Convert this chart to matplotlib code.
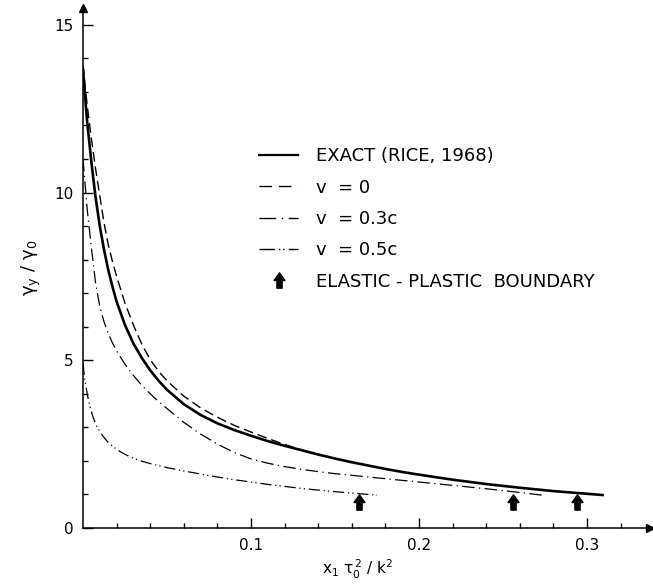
import numpy as np
import matplotlib
matplotlib.use('Agg')
import matplotlib.pyplot as plt
from matplotlib.lines import Line2D
from matplotlib.path import Path

plt.rcParams['font.family'] = 'DejaVu Sans'
plt.rcParams['mathtext.default'] = 'regular'

# Exact solution (Rice, 1968)
exact_x = [0.0, 0.001, 0.0025, 0.005, 0.0075, 0.01, 0.0125, 0.015, 0.0175, 0.02,
           0.025, 0.03, 0.035, 0.04, 0.045, 0.05, 0.06, 0.07, 0.08, 0.09, 0.1,
           0.11, 0.12, 0.13, 0.14, 0.15, 0.16, 0.17, 0.18, 0.19, 0.2,
           0.22, 0.24, 0.26, 0.28, 0.295, 0.31]
exact_y = [13.7, 13.0, 12.1, 10.9, 9.85, 9.0, 8.3, 7.7, 7.2, 6.75,
           6.05, 5.5, 5.07, 4.7, 4.39, 4.12, 3.69, 3.37, 3.12, 2.92, 2.75,
           2.59, 2.45, 2.32, 2.19, 2.07, 1.96, 1.86, 1.76, 1.67, 1.59,
           1.44, 1.31, 1.20, 1.10, 1.04, 0.98]

# v = 0
v0_x = [0.0, 0.001, 0.0025, 0.005, 0.0075, 0.01, 0.0125, 0.015, 0.0175, 0.02,
        0.025, 0.03, 0.035, 0.04, 0.045, 0.05, 0.06, 0.07, 0.08, 0.09, 0.1,
        0.11, 0.12, 0.13, 0.14]
v0_y = [13.8, 13.3, 12.6, 11.6, 10.7, 9.9, 9.1, 8.45, 7.95, 7.5,
        6.7, 6.05, 5.48, 5.02, 4.67, 4.39, 3.93, 3.58, 3.3, 3.06, 2.86,
        2.67, 2.49, 2.33, 2.19]

# v = 0.3c
v03_x = [0.0, 0.001, 0.0025, 0.005, 0.0075, 0.01, 0.0125, 0.015, 0.0175, 0.02,
         0.025, 0.03, 0.035, 0.04, 0.045, 0.05, 0.06, 0.07, 0.08, 0.09, 0.1,
         0.11, 0.12, 0.13, 0.14, 0.15, 0.16, 0.18, 0.2, 0.22, 0.24, 0.26, 0.273]
v03_y = [11.0, 10.4, 9.5, 8.35, 7.3, 6.6, 6.15, 5.8, 5.52, 5.28,
         4.88, 4.55, 4.25, 4.0, 3.77, 3.56, 3.15, 2.8, 2.5, 2.25, 2.06,
         1.93, 1.83, 1.75, 1.68, 1.62, 1.57, 1.47, 1.37, 1.27, 1.17, 1.06, 0.98]

# v = 0.5c
v05_x = [0.0, 0.001, 0.0025, 0.004, 0.006, 0.008, 0.01, 0.0125, 0.015, 0.018,
         0.022, 0.026, 0.03, 0.035, 0.04, 0.05, 0.06, 0.07, 0.08, 0.09, 0.1,
         0.11, 0.12, 0.13, 0.14, 0.153, 0.165, 0.175]
v05_y = [4.9, 4.45, 4.0, 3.65, 3.3, 3.05, 2.87, 2.7, 2.55, 2.42,
         2.28, 2.17, 2.08, 1.99, 1.92, 1.8, 1.7, 1.61, 1.52, 1.44, 1.37,
         1.3, 1.24, 1.18, 1.13, 1.07, 1.02, 0.98]

# elastic-plastic boundary positions
boundary_x = [0.164, 0.256, 0.294]
boundary_y = [0.78, 0.78, 0.78]

labels = ['EXACT (RICE, 1968)', 'v  = 0', 'v  = 0.3c', 'v  = 0.5c',
          'ELASTIC - PLASTIC  BOUNDARY']

# upward block arrow marker
arrow = Path([(-0.17, -0.5), (0.17, -0.5), (0.17, 0.0), (0.36, 0.0),
              (0.0, 0.5), (-0.36, 0.0), (-0.17, 0.0), (-0.17, -0.5)],
             [Path.MOVETO] + [Path.LINETO] * 6 + [Path.CLOSEPOLY])

fig = plt.figure(figsize=(6.53, 5.85), dpi=100)
ax = fig.add_axes([83 / 653, 57 / 585, 567 / 653, 520 / 585])

ls_dash = (0, (7, 3.5))
ls_dashdot = (0, (10, 3.5, 1, 3.5))
ls_dashdotdot = (0, (9, 3, 1, 2.5, 1, 3))

ax.plot(exact_x, exact_y, color='black', lw=1.9, solid_capstyle='butt')
ax.plot(v0_x, v0_y, color='black', lw=1.0, linestyle=ls_dash)
ax.plot(v03_x, v03_y, color='black', lw=0.9, linestyle=ls_dashdot)
ax.plot(v05_x, v05_y, color='black', lw=0.9, linestyle=ls_dashdotdot)
ax.plot(boundary_x, boundary_y, linestyle='None', marker=arrow,
        markersize=11, color='black')

ax.set_xlim(0, 0.3375)
ax.set_ylim(0, 15.5)

ax.spines['top'].set_visible(False)
ax.spines['right'].set_visible(False)
ax.spines['left'].set_linewidth(1.1)
ax.spines['bottom'].set_linewidth(1.1)

# axis arrowheads
ax.plot(1, 0, '>k', markersize=6, transform=ax.get_yaxis_transform(), clip_on=False)
ax.plot(0, 1, '^k', markersize=6, transform=ax.get_xaxis_transform(), clip_on=False)

ax.set_xticks([0.1, 0.2, 0.3])
ax.set_xticklabels(['0.1', '0.2', '0.3'])
ax.set_xticks(np.arange(0.02, 0.33, 0.02), minor=True)
ax.set_yticks([0, 5, 10, 15])
ax.set_yticks(np.arange(1, 16, 1), minor=True)
ax.tick_params(which='major', direction='in', length=7, width=1.0,
               labelsize=11, pad=7)
ax.tick_params(which='minor', direction='in', length=3.5, width=1.0)

ax.set_xlabel(r'$x_1\ \tau_0^{\,2}\ /\ k^2$', fontsize=11)
ax.xaxis.set_label_coords(0.485, -0.058)
ax.set_ylabel(r'$\gamma_y\ /\ \gamma_0$', fontsize=13)
ax.yaxis.set_label_coords(-0.07, 0.5)

handles = [
    Line2D([], [], color='black', lw=1.6),
    Line2D([], [], color='black', lw=1.0, linestyle=(0, (9, 5))),
    Line2D([], [], color='black', lw=1.0, linestyle=(0, (12, 4, 1, 4))),
    Line2D([], [], color='black', lw=1.0, linestyle=(0, (11, 3, 1, 2, 1, 3))),
    Line2D([], [], color='black', linestyle='None', marker=arrow, markersize=11),
]
ax.legend(handles, labels, loc='upper left', bbox_to_anchor=(0.31, 0.732),
          frameon=False, fontsize=13, handlelength=2.2, handletextpad=0.95,
          labelspacing=0.74, borderpad=0, borderaxespad=0)

plt.savefig('out.png', dpi=100)
plt.close()
